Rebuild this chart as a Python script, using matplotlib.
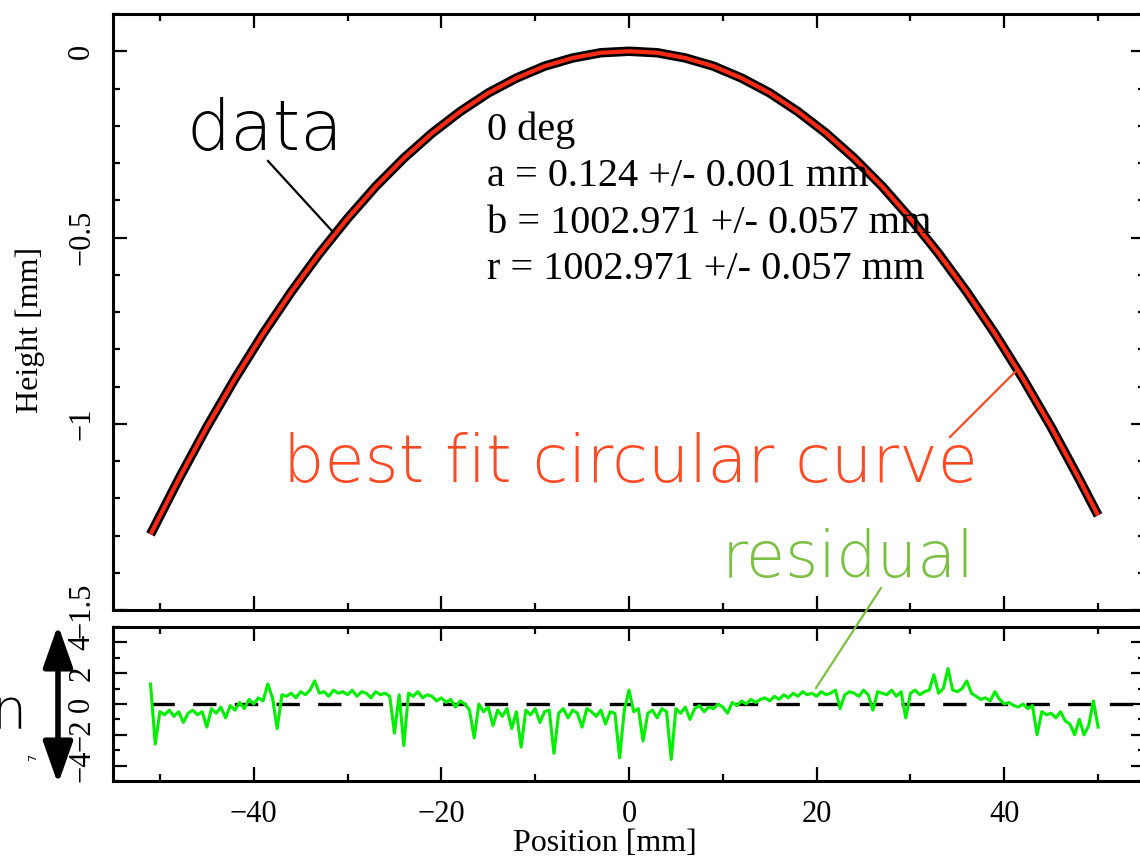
import numpy as np
import matplotlib
matplotlib.use('Agg')
import matplotlib.pyplot as plt
from matplotlib.ticker import MultipleLocator, FuncFormatter
from matplotlib.lines import Line2D

plt.rcParams['font.family'] = ['Liberation Serif', 'DejaVu Serif']
plt.rcParams['axes.unicode_minus'] = True

W, H = 1140, 857

# ---------------- data ----------------
data_pos = [-51, -48, -45, -42, -39, -36, -33, -30, -27, -24, -21, -18, -15, -12,
            -9, -6, -3, 0, 3, 6, 9, 12, 15, 18, 21, 24, 27, 30, 33, 36, 39, 42,
            45, 48, 50]
data_height = [-1.297, -1.149, -1.009, -0.879, -0.758, -0.646, -0.543, -0.449,
               -0.363, -0.287, -0.220, -0.162, -0.112, -0.072, -0.040, -0.018,
               -0.004, 0.000, -0.004, -0.018, -0.040, -0.072, -0.112, -0.162,
               -0.220, -0.287, -0.363, -0.449, -0.543, -0.646, -0.758, -0.879,
               -1.009, -1.149, -1.246]
fit_height = [-1.297, -1.149, -1.009, -0.879, -0.758, -0.646, -0.543, -0.449,
              -0.363, -0.287, -0.220, -0.162, -0.112, -0.072, -0.040, -0.018,
              -0.004, 0.000, -0.004, -0.018, -0.040, -0.072, -0.112, -0.162,
              -0.220, -0.287, -0.363, -0.449, -0.543, -0.646, -0.758, -0.879,
              -1.009, -1.149, -1.246]

res_start, res_step = -51.0, 0.5
residual = [
    1.3, -2.6, -0.5, -0.7, -0.4, -0.8, -0.5, -1.2, -0.6, -0.4,
    -0.7, -0.5, -1.5, -0.3, -0.6, -0.2, -0.9, -0.1, -0.4, 0.1,
    -0.3, 0.3, 0.0, 0.4, 0.2, 1.3, 0.4, -1.6, 0.6, 0.5,
    0.7, 0.4, 0.8, 0.6, 0.9, 1.5, 0.7, 0.8, 0.5, 0.9,
    0.7, 0.8, 0.6, 0.9, 0.5, 0.8, 0.7, 0.4, 0.8, 0.6,
    0.7, 0.5, -1.9, 0.6, -2.7, 0.7, 0.5, 0.8, 0.4, 0.6,
    0.5, 0.2, 0.4, 0.1, 0.3, -0.2, 0.2, 0.0, -0.4, -2.2,
    0.0, -0.5, -0.2, -1.4, -0.4, -0.8, -0.3, -1.6, -0.5, -2.8,
    -0.4, -0.7, -0.3, -1.2, -0.5, -0.4, -3.2, -0.6, -0.3, -0.9,
    -0.4, -0.6, -1.5, -0.3, -0.5, -0.8, -0.4, -1.3, -0.5, -0.6,
    -3.5, -0.4, 0.9, -0.5, -0.3, -2.4, -0.6, -0.4, -0.9, -0.3,
    -0.5, -3.6, -0.3, -0.6, -0.2, -1.0, -0.3, -0.1, -0.5, -0.2,
    -0.3, 0.0, -0.2, -0.6, 0.1, -0.1, 0.2, 0.0, 0.3, 0.1,
    0.3, 0.4, 0.2, 0.5, 0.3, 0.6, 0.4, 0.7, 0.5, 0.8,
    0.6, 0.7, 0.5, 0.8, 0.6, 0.7, 0.9, -0.3, 0.6, 0.8,
    0.7, 0.5, 0.9, 0.6, -0.4, 0.8, 0.7, 0.6, 0.9, 0.5,
    0.8, -0.9, 0.7, 0.9, 0.6, 0.8, 0.9, 1.9, 0.7, 1.0,
    2.3, 0.9, 0.8, 1.0, 1.5, 0.7, 0.5, 0.3, 0.4, 0.2,
    0.8, 0.3, 0.0, 0.1, -0.1, -0.2, 0.0, -0.3, -0.1, -2.0,
    -0.5, -0.7, -0.6, -0.9, -0.5, -1.1, -1.3, -2.0, -1.0, -2.0,
    -1.4, 0.2, -1.5,
]
res_pos = res_start + res_step * np.arange(len(residual))

fit_text = ["0 deg",
            "a = 0.124 +/- 0.001 mm",
            "b = 1002.971 +/- 0.057 mm",
            "r = 1002.971 +/- 0.057 mm"]

x_label = "Position [mm]"
y_label = "Height [mm]"

# ---------------- layout helpers ----------------
def fx(px):
    return px / W

def fy(py):
    return 1 - py / H

fig = plt.figure(figsize=(W / 100, H / 100), dpi=100)

ax_l, ax_r = 113, 1145
ax1 = fig.add_axes([fx(ax_l), fy(610), fx(ax_r - ax_l), (610 - 14) / H])
ax2 = fig.add_axes([fx(ax_l), fy(781), fx(ax_r - ax_l), (781 - 627) / H])

fmt = FuncFormatter(lambda v, p: ('%g' % v).replace('-', '\u2212'))

for ax in (ax1, ax2):
    ax.set_xlim(-55, 55)
    ax.xaxis.set_major_locator(MultipleLocator(20))
    ax.xaxis.set_minor_locator(MultipleLocator(10))
    ax.tick_params(which='both', direction='in', top=True, right=True,
                   width=1.6, labelsize=22)
    ax.tick_params(which='major', length=10)
    ax.tick_params(which='minor', length=5)
    ax.tick_params(axis='y', pad=12)
    ax.tick_params(axis='x', pad=14)
    for s in ax.spines.values():
        s.set_linewidth(2.2)
    ax.yaxis.set_major_formatter(fmt)
    ax.xaxis.set_major_formatter(fmt)

# top panel
ax1.set_ylim(-1.5, 0.1)
ax1.yaxis.set_major_locator(MultipleLocator(0.5))
ax1.yaxis.set_minor_locator(MultipleLocator(0.1))
ax1.tick_params(axis='x', labelbottom=False)
ax1.plot(data_pos, data_height, color='black', lw=6.8, solid_capstyle='butt',
         zorder=2)
ax1.plot(data_pos, fit_height, color='#ff2a14', lw=3.0, solid_capstyle='butt',
         zorder=3)
ax1.set_ylabel(y_label, fontsize=23)
ax1.yaxis.set_label_coords(-0.066, 0.47)

# bottom panel
ax2.set_ylim(-5, 5)
ax2.yaxis.set_major_locator(MultipleLocator(2))
ax2.yaxis.set_minor_locator(MultipleLocator(1))
ax2.hlines(0, res_pos[0], 55, colors='black', lw=2.4,
           linestyles=(0, (7, 5.5)), zorder=1)
ax2.plot(res_pos, residual, color='#00ee00', lw=2.2, zorder=2)
ax2.set_xlabel(x_label, fontsize=23)
ax2.xaxis.set_label_coords(0.477, -0.31)

for ax in (ax1, ax2):
    for lbl in ax.get_yticklabels():
        lbl.set_rotation(90)
        lbl.set_va('center')

# ---------------- annotations ----------------
for i, line in enumerate(fit_text):
    fig.text(fx(487), fy(140 + 46.3 * i), line, fontsize=29, va='baseline',
             ha='left', color='black')

sans = ['DejaVu Sans']
fig.text(fx(186), fy(150), "data", fontsize=50, family=sans, fontweight='light',
         va='baseline', ha='left', color='black')
fig.text(fx(283), fy(482), "best fit circular curve", fontsize=47, family=sans,
         fontweight='light', va='baseline', ha='left', color='#ff4a24')
fig.text(fx(722), fy(577), "residual", fontsize=46, family=sans,
         fontweight='light', va='baseline', ha='left', color='#7cc043')

fig.add_artist(Line2D([fx(268), fx(333)], [fy(161), fy(232)], color='black',
                      lw=1.6, transform=fig.transFigure))
fig.add_artist(Line2D([fx(950), fx(1015)], [fy(437), fy(372)], color='#ff4a24',
                      lw=1.6, transform=fig.transFigure))
fig.add_artist(Line2D([fx(881), fx(816)], [fy(588), fy(688)], color='#7cc043',
                      lw=1.6, transform=fig.transFigure))

# cropped side annotation (double arrow and partial text)
fig.add_artist(plt.Annotation('', xy=(fx(58), fy(625)), xytext=(fx(58), fy(784)),
                              xycoords='figure fraction',
                              textcoords='figure fraction',
                              arrowprops=dict(arrowstyle='<|-|>,head_length=0.85,head_width=0.3',
                                              lw=4, color='black',
                                              mutation_scale=30,
                                              shrinkA=0, shrinkB=0),
                              annotation_clip=False))
fig.text(fx(-8), fy(728), "n", fontsize=40, family=sans, fontweight='light',
         va='baseline', ha='left', color='black')
fig.text(fx(33), fy(757), "7", fontsize=8, family=sans, rotation=90,
         va='center', ha='center', color='black')

fig.savefig('out.png', dpi=100)
